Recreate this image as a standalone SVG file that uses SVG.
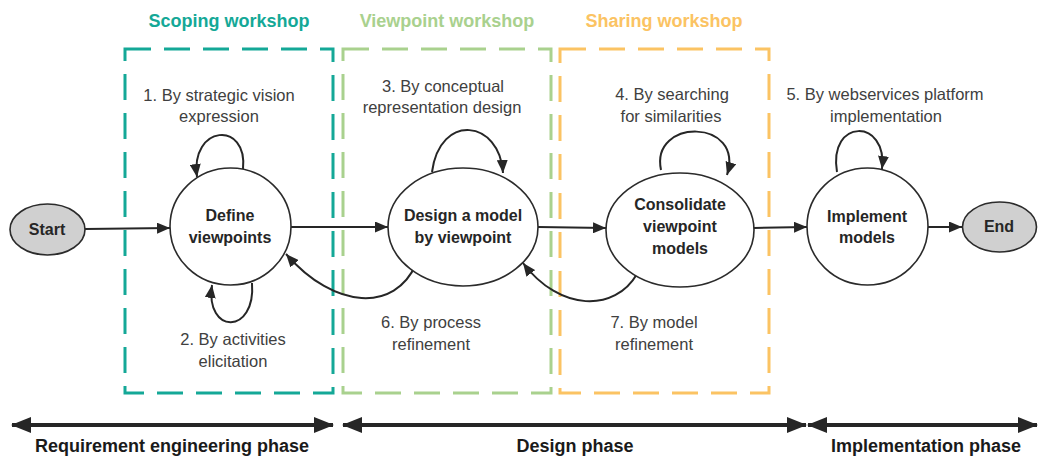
<svg xmlns="http://www.w3.org/2000/svg" width="1038" height="457" viewBox="0 0 1038 457">
<defs>
<style>
.bg{fill:#ffffff}
.box{fill:none;stroke-width:3;stroke-dasharray:26 13}
.title{font-family:"Liberation Sans",Arial,sans-serif;font-weight:bold;font-size:18px;text-anchor:middle}
.state{fill:#ffffff;stroke:#2b2b2b;stroke-width:1.6}
.term{fill:#d0d0d0;stroke:#2b2b2b;stroke-width:1.6}
.ntext{font-family:"Liberation Sans",Arial,sans-serif;font-weight:bold;font-size:16px;fill:#262626;text-anchor:middle}
.lbl{font-family:"Liberation Sans",Arial,sans-serif;font-size:16.5px;fill:#404040;text-anchor:middle}
.edge{fill:none;stroke:#262626;stroke-width:2;marker-end:url(#ah)}
.phase{fill:none;stroke:#262626;stroke-width:4;marker-start:url(#big);marker-end:url(#big)}
.ptext{font-family:"Liberation Sans",Arial,sans-serif;font-weight:bold;font-size:18px;fill:#1a1a1a;text-anchor:middle}
</style>
<marker id="ah" markerUnits="userSpaceOnUse" markerWidth="13" markerHeight="11" refX="13" refY="5.5" orient="auto">
<path d="M0,0 L13,5.5 L0,11 z" fill="#262626"/>
</marker>
<marker id="big" markerUnits="userSpaceOnUse" markerWidth="20" markerHeight="16" refX="19" refY="8" orient="auto-start-reverse">
<path d="M0,0 L20,8 L0,16 z" fill="#262626"/>
</marker>
</defs>
<rect class="bg" x="0" y="0" width="1038" height="457"/>

<g id="workshops">
<g id="scoping">
<rect class="box" x="125" y="49" width="208" height="344" stroke="#14a897"/>
<text class="title" x="229" y="27" fill="#14a897">Scoping workshop</text>
</g>
<g id="viewpoint">
<rect class="box" x="343" y="49" width="208" height="344" stroke="#a9d18e"/>
<text class="title" x="447" y="27" fill="#a9d18e">Viewpoint workshop</text>
</g>
<g id="sharing">
<rect class="box" x="560" y="49" width="209" height="344" stroke="#fbc363"/>
<text class="title" x="664" y="27" fill="#fbc363">Sharing workshop</text>
</g>
</g>

<g id="connectors">
<path class="edge" d="M85,229 L170,228"/>
<path class="edge" d="M291,227 L388,227"/>
<path class="edge" d="M538,227 L606,228"/>
<path class="edge" d="M754,228 L807,227"/>
<path class="edge" d="M928,227 L962,227"/>
<path class="edge" d="M243,169 C 248,120 190,125 197,177"/>
<path class="edge" d="M252,283 C 256,335 205,335 212,285"/>
<path class="edge" d="M432,172 C 440,112 500,120 503,173"/>
<path class="edge" d="M661,170 C 650,118 745,118 727,175"/>
<path class="edge" d="M837,172 C 828,118 888,118 882,169"/>
<path class="edge" d="M416,264 C 395,312 335,310 286,254"/>
<path class="edge" d="M637,274 C 615,312 560,312 523,263"/>
</g>

<g id="labels">
<text class="lbl" x="219" y="101">1. By strategic vision</text>
<text class="lbl" x="219" y="122">expression</text>
<text class="lbl" x="233" y="345">2. By activities</text>
<text class="lbl" x="233" y="367">elicitation</text>
<text class="lbl" x="443" y="92">3. By conceptual</text>
<text class="lbl" x="442" y="113">representation design</text>
<text class="lbl" x="672" y="100">4. By searching</text>
<text class="lbl" x="671" y="122">for similarities</text>
<text class="lbl" x="885" y="100">5. By webservices platform</text>
<text class="lbl" x="886" y="122">implementation</text>
<text class="lbl" x="431" y="328">6. By process</text>
<text class="lbl" x="431" y="350">refinement</text>
<text class="lbl" x="654" y="328">7. By model</text>
<text class="lbl" x="654" y="350">refinement</text>
</g>

<g id="start">
<ellipse class="term" cx="47.5" cy="229.5" rx="37.5" ry="25.5"/>
<text class="ntext" x="47" y="235">Start</text>
</g>
<g id="define">
<ellipse class="state" cx="230.5" cy="226.5" rx="60.5" ry="58.5"/>
<text class="ntext" x="230" y="221">Define</text>
<text class="ntext" x="230" y="243">viewpoints</text>
</g>
<g id="design">
<ellipse class="state" cx="463" cy="227" rx="75" ry="59"/>
<text class="ntext" x="463" y="221">Design a model</text>
<text class="ntext" x="463" y="243">by viewpoint</text>
</g>
<g id="consolidate">
<ellipse class="state" cx="680" cy="230" rx="74" ry="57"/>
<text class="ntext" x="680" y="210">Consolidate</text>
<text class="ntext" x="680" y="232">viewpoint</text>
<text class="ntext" x="680" y="254">models</text>
</g>
<g id="implement">
<ellipse class="state" cx="867.5" cy="226.5" rx="60.5" ry="58.5"/>
<text class="ntext" x="867" y="222">Implement</text>
<text class="ntext" x="867" y="243">models</text>
</g>
<g id="end">
<ellipse class="term" cx="999.5" cy="227" rx="37" ry="25"/>
<text class="ntext" x="999" y="232">End</text>
</g>

<g id="phases">
<path class="phase" d="M12,425 L333,425"/>
<path class="phase" d="M343,425 L806,425"/>
<path class="phase" d="M808,425 L1037,425"/>
<text class="ptext" x="172" y="452">Requirement engineering phase</text>
<text class="ptext" x="575" y="452">Design phase</text>
<text class="ptext" x="926" y="452">Implementation phase</text>
</g>
</svg>
